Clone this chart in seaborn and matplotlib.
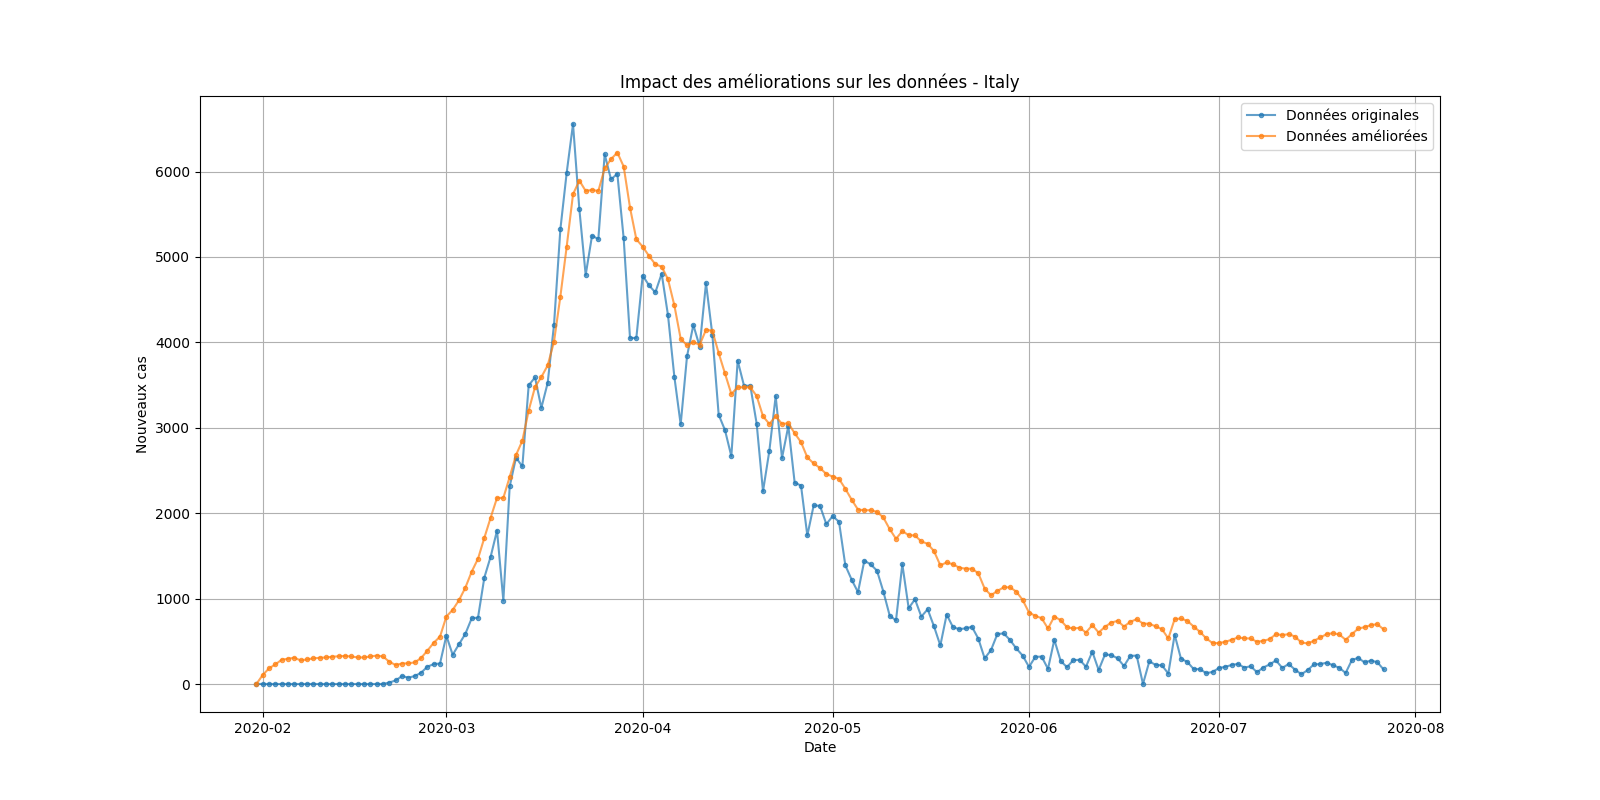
import pandas as pd
import matplotlib
matplotlib.use('Agg')
import matplotlib.pyplot as plt
import seaborn as sns

# Daily values, 2020-01-31 .. 2020-07-27
dates = pd.date_range('2020-01-31', '2020-07-27', freq='D')

original = (
    [2]
    + [0, 0, 0, 0, 0, 0, 1] + [0] * 13
    + [17, 42, 93, 74, 93, 131, 202, 233, 240]
    # March
    + [566, 342, 466, 587, 769, 778, 1247, 1492, 1797, 977, 2313, 2651, 2547, 3497, 3590, 3233,
       3526, 4207, 5322, 5986, 6557, 5560, 4789, 5249, 5210, 6203, 5909, 5974, 5217, 4050, 4053]
    # April
    + [4782, 4668, 4585, 4805, 4316, 3599, 3039, 3836, 4204, 3951, 4694, 4092, 3153, 2972, 2667,
       3786, 3493, 3491, 3047, 2256, 2729, 3370, 2646, 3021, 2357, 2324, 1739, 2091, 2086, 1872]
    # May
    + [1965, 1900, 1389, 1221, 1075, 1444, 1401, 1327, 1083, 802, 744, 1402, 888, 992, 789, 875,
       675, 451, 813, 665, 642, 652, 669, 531, 300, 397, 584, 593, 516, 416, 333]
    # June
    + [200, 318, 321, 177, 518, 270, 197, 280, 283, 202, 379, 163, 346, 338, 301, 210, 329, 333,
       0, 264, 224, 218, 122, 577, 296, 259, 175, 174, 126, 142]
    # July
    + [187, 201, 223, 235, 192, 208, 138, 193, 229, 276, 188, 234, 169, 114, 162, 230, 233, 249,
       219, 190, 129, 282, 306, 252, 275, 255, 170]
)

improved = (
    [0]
    # February
    + [105, 183, 230, 284, 296, 307, 276, 288, 300, 307, 311, 319, 325, 328, 322, 311, 311, 322,
       333, 322, 260, 222, 240, 242, 253, 303, 390, 482, 555]
    # March
    + [790, 868, 981, 1128, 1315, 1467, 1712, 1949, 2179, 2179, 2424, 2681, 2848, 3202, 3477,
       3594, 3730, 4008, 4535, 5121, 5734, 5895, 5773, 5785, 5773, 6039, 6145, 6223, 6059, 5578, 5207]
    # April
    + [5121, 5012, 4914, 4887, 4738, 4434, 4043, 3965, 4004, 3970, 4148, 4136, 3875, 3637, 3396,
       3474, 3474, 3474, 3372, 3135, 3045, 3135, 3045, 3053, 2936, 2832, 2653, 2583, 2529, 2459]
    # May
    + [2429, 2402, 2286, 2158, 2042, 2035, 2035, 2015, 1950, 1814, 1700, 1790, 1743, 1739, 1669,
       1642, 1556, 1389, 1424, 1401, 1362, 1350, 1350, 1296, 1117, 1039, 1089, 1132, 1132, 1082, 984]
    # June
    + [837, 798, 770, 650, 790, 747, 665, 650, 658, 603, 689, 603, 669, 720, 739, 673, 728, 759,
       708, 705, 675, 642, 533, 759, 767, 739, 673, 611, 533, 479]
    # July
    + [479, 494, 518, 545, 535, 533, 494, 506, 525, 584, 572, 584, 556, 486, 475, 506, 545, 584,
       595, 580, 518, 584, 650, 665, 690, 700, 640]
)

df = pd.DataFrame({'Date': dates, 'original': original, 'improved': improved})

fig, ax = plt.subplots(figsize=(16, 8), dpi=100)

sns.lineplot(data=df, x='Date', y='original', ax=ax, color='tab:blue', marker='o',
             markersize=3.2, markeredgecolor='tab:blue', alpha=0.7, label='Données originales')
sns.lineplot(data=df, x='Date', y='improved', ax=ax, color='tab:orange', marker='o',
             markersize=3.2, markeredgecolor='tab:orange', alpha=0.7, label='Données améliorées')

ax.set_title('Impact des améliorations sur les données - Italy')
ax.set_xlabel('Date')
ax.set_ylabel('Nouveaux cas')
ax.grid(True)
ax.legend(loc='upper right')

plt.savefig('out.png', dpi=100)
